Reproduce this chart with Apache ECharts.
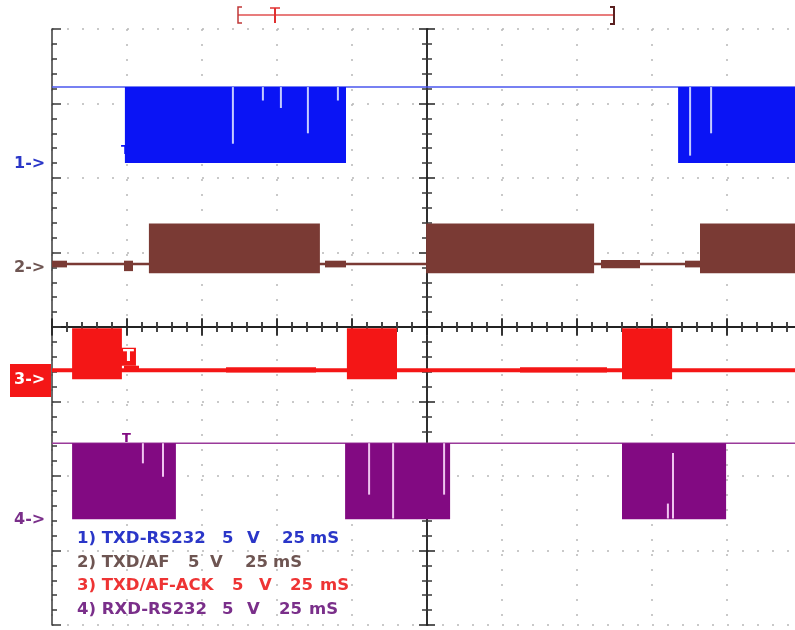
<!DOCTYPE html>
<html><head><meta charset="utf-8">
<script src="https://cdn.jsdelivr.net/npm/echarts@6/dist/echarts.min.js"></script>
<style>html,body{margin:0;padding:0;background:#fff}#c{width:795px;height:630px}</style>
</head><body><div id="c"></div><script>
// ---- data (time in ms, 25 ms/div; voltages in V, 5 V/div) ----
const timeRange = [0, 250];
const timePerDiv = 25;
const voltsPerDiv = 5;
// legend: each line split into its words
const legendWords = [
  ['1) TXD-RS232', '5', 'V', '25', 'mS'],
  ['2) TXD/AF', '5', 'V', '25', 'mS'],
  ['3) TXD/AF-ACK', '5', 'V', '25', 'mS'],
  ['4) RXD-RS232', '5', 'V', '25', 'mS']
];
const channelTags = ['1->', '2->', '3->', '4->'];
const channelColors = ['#0a14f5', '#7a3a34', '#f41616', '#820a82'];
const legendColors = ['#2a36c8', '#6e5552', '#ee3434', '#7a2f8a'];
const glitchColors = ['#c4ccff', '#e8d0cc', '#ffd0d0', '#f0c4f0'];
const channelGround = [2.2, 0.79, -0.70, -2.59]; // ground marker, divisions from centre

// idle levels (V)
const ch1Idle = 5.1, ch2Idle = 0.27, ch3Idle = 0.6, ch4Idle = 5.15;
// bursts: [start ms, end ms, low V, high V]
const ch1Bursts = [[24.3, 98.0, 0.0, 5.1], [208.7, 250, 0.0, 5.1]];
const ch2Bursts = [[32.3, 89.3, -0.34, 3.0], [124.7, 180.7, -0.34, 3.0], [216.0, 250, -0.34, 3.0]];
const ch3Bursts = [[6.7, 23.3, 0.0, 3.42], [98.3, 115.0, 0.0, 3.42], [190.0, 206.7, 0.0, 3.42]];
const ch4Bursts = [[6.7, 41.3, 0.05, 5.15], [97.7, 132.7, 0.05, 5.15], [190.0, 224.7, 0.05, 5.15]];
// noise blobs around the idle level: [start, end, low V, high V]
const ch2Noise = [[0, 5, 0.05, 0.5], [24, 27, -0.2, 0.5], [91, 98, 0.05, 0.5], [183, 196, 0.0, 0.55], [211, 216, 0.05, 0.5]];
const ch3Noise = [[24, 29, 0.5, 0.9], [58, 88, 0.45, 0.8], [156, 185, 0.45, 0.8]];
// dropouts inside bursts: [time ms, low V, high V]
const ch1Glitches = [[60.3, 1.3, 5.1], [70.3, 4.2, 5.1], [76.3, 3.7, 5.1], [85.3, 2.0, 5.1], [95.3, 4.2, 5.1], [212.7, 0.5, 5.1], [219.7, 2.0, 5.1]];
const ch4Glitches = [[30.3, 3.8, 5.15], [37.0, 2.9, 5.15], [105.7, 1.7, 5.15], [113.7, 0.1, 5.15], [130.7, 1.7, 5.15], [207.0, 0.1, 4.5], [205.3, 0.1, 1.1]];
// trigger markers: [time ms, level V, channel index]
const triggerMarks = [[24.5, 0.4, 0], [25.5, 0.9, 2], [24.8, 5.0, 3]];

// ---- helpers ----
const toDiv = (ch, v) => channelGround[ch] + v / voltsPerDiv;
const rectData = (ch, arr) => arr.map(d => [d[0], d[1], toDiv(ch, d[2]), toDiv(ch, d[3])]);
const glitchData = (ch, arr) => arr.map(d => [d[0], toDiv(ch, d[1]), toDiv(ch, d[2])]);

function clipToGrid(shape, params) {
  const cs = params.coordSys;
  return echarts.graphic.clipRectByRect(shape, {x: cs.x, y: cs.y, width: cs.width, height: cs.height});
}
function rectRender(params, api) {
  const a = api.coord([api.value(0), api.value(3)]);
  const b = api.coord([api.value(1), api.value(2)]);
  const shape = clipToGrid({x: a[0], y: a[1], width: b[0] - a[0], height: b[1] - a[1]}, params);
  return shape && {type: 'rect', shape, style: {fill: api.visual('color')}};
}
function glitchRender(params, api) {
  const a = api.coord([api.value(0), api.value(2)]);
  const b = api.coord([api.value(0), api.value(1)]);
  return {type: 'rect', shape: {x: a[0] - 1, y: a[1], width: 2, height: b[1] - a[1]}, style: {fill: api.visual('color')}};
}
function rectSeries(ch, arr, color, z) {
  return {type: 'custom', renderItem: rectRender, data: rectData(ch, arr), itemStyle: {color}, z, silent: true, animation: false};
}
function glitchSeries(ch, arr, color) {
  return {type: 'custom', renderItem: glitchRender, data: glitchData(ch, arr), itemStyle: {color}, z: 5, silent: true, animation: false};
}
function idleSeries(ch, level, width, color) {
  return {type: 'line', data: [[timeRange[0], toDiv(ch, level)], [timeRange[1], toDiv(ch, level)]], symbol: 'none',
    lineStyle: {color: color || channelColors[ch], width}, z: 2, silent: true, animation: false};
}

const tickColor = '#3a3a3a';
function xAx(extra) {
  return Object.assign({type: 'value', min: timeRange[0], max: timeRange[1], interval: timePerDiv,
    axisLabel: {show: false}, splitLine: {show: false},
    axisLine: {show: true, lineStyle: {color: tickColor, width: 1.5}},
    axisTick: {show: true, inside: true, length: 9, lineStyle: {color: tickColor, width: 1.5}},
    minorTick: {show: true, splitNumber: 5, length: 5, lineStyle: {color: tickColor, width: 1.5}}}, extra);
}
function yAx(extra) {
  return Object.assign({type: 'value', min: -4, max: 4, interval: 1,
    axisLabel: {show: false}, splitLine: {show: false},
    axisLine: {show: true, lineStyle: {color: tickColor, width: 1.5}},
    axisTick: {show: true, inside: true, length: 9, lineStyle: {color: tickColor, width: 1.5}},
    minorTick: {show: true, splitNumber: 5, length: 5, lineStyle: {color: tickColor, width: 1.5}}}, extra);
}

const chart = echarts.init(document.getElementById('c'), null, {renderer: 'canvas'});

const FONT = 'bold 16px "DejaVu Sans"';
const LFONT = 'bold 16.5px "DejaVu Sans"';
const graphics = [];
// top memory window bracket
graphics.push({type: 'line', shape: {x1: 238, y1: 15, x2: 615, y2: 15}, style: {stroke: '#e05050', lineWidth: 1.5}, z: 10});
graphics.push({type: 'polyline', shape: {points: [[242, 7], [238, 7], [238, 23], [242, 23]]}, style: {stroke: '#c03838', lineWidth: 1.5, fill: null}, z: 10});
graphics.push({type: 'line', shape: {x1: 275, y1: 8, x2: 275, y2: 23}, style: {stroke: '#e03030', lineWidth: 2}, z: 10});
graphics.push({type: 'line', shape: {x1: 270, y1: 8, x2: 280, y2: 8}, style: {stroke: '#e03030', lineWidth: 1.5}, z: 10});
graphics.push({type: 'polyline', shape: {points: [[610, 7], [614, 7], [614, 24], [610, 24]]}, style: {stroke: '#5a2020', lineWidth: 2, fill: null}, z: 10});
// channel tags
const tagY = [164, 268, 380, 520];
channelTags.forEach((t, i) => {
  if (i === 2) {
    graphics.push({type: 'rect', shape: {x: 10, y: 364, width: 41, height: 33}, style: {fill: channelColors[2]}, z: 10});
    graphics.push({type: 'text', x: 14, y: tagY[i], style: {text: t, fill: '#fff', font: FONT, verticalAlign: 'middle'}, z: 11});
  } else {
    graphics.push({type: 'text', x: 14, y: tagY[i], style: {text: t, fill: legendColors[i], font: FONT, verticalAlign: 'middle'}, z: 10});
  }
});
// legend texts (word positions)
const wordX = [
  [77, 222, 247, 282, 310],
  [77, 188, 210, 245, 273],
  [77, 232, 259, 290, 320],
  [77, 222, 247, 279, 309]
];
const lineY = [539, 562.5, 586, 609.5];
legendWords.forEach((words, i) => {
  words.forEach((w, j) => {
    graphics.push({type: 'text', x: wordX[i][j], y: lineY[i], style: {text: w, fill: legendColors[i], font: LFONT, verticalAlign: 'middle'}, z: 10});
  });
});

const series = [
  idleSeries(0, ch1Idle, 1.5, '#4a56ee'), idleSeries(1, ch2Idle, 2.5), idleSeries(2, ch3Idle, 4), idleSeries(3, ch4Idle, 1.5, '#9a3a9a'),
  rectSeries(1, ch2Noise, channelColors[1], 3), rectSeries(2, ch3Noise, channelColors[2], 3),
  rectSeries(0, ch1Bursts, channelColors[0], 4), rectSeries(1, ch2Bursts, channelColors[1], 4),
  rectSeries(2, ch3Bursts, channelColors[2], 4), rectSeries(3, ch4Bursts, channelColors[3], 4),
  glitchSeries(0, ch1Glitches, glitchColors[0]), glitchSeries(3, ch4Glitches, glitchColors[3]),
  {type: 'custom', silent: true, animation: false, z: 6,
    data: triggerMarks.map(d => [d[0], toDiv(d[2], d[1]), d[2]]),
    renderItem: function (params, api) {
      const p = api.coord([api.value(0), api.value(1)]);
      const ch = api.value(2);
      const red = ch === 2;
      return {type: 'text', x: p[0], y: p[1], style: {text: 'T', font: red ? 'bold 16px "DejaVu Sans"' : 'bold 13px "DejaVu Sans"',
        fill: red ? '#fff' : channelColors[ch], align: 'center', verticalAlign: 'bottom',
        backgroundColor: red ? channelColors[2] : null, padding: red ? [1, 2] : 0}};
    }}
];

chart.setOption({
  animation: false,
  backgroundColor: '#fff',
  grid: {left: 52, top: 29, width: 750, height: 596, containLabel: false, outerBoundsMode: 'none'},
  xAxis: [
    xAx({position: 'bottom', splitLine: {show: true, lineStyle: {color: '#b8b8b8', type: [2, 13], dashOffset: 0, width: 1.5}}}),
    xAx({position: 'top'}),
    xAx({position: 'bottom', offset: -298, axisTick: {show: true, inside: true, length: 8, lineStyle: {color: '#222', width: 1.5}}, axisLine: {show: true, lineStyle: {color: '#222', width: 1.5}}}),
    xAx({position: 'bottom', offset: -298, axisTick: {show: true, inside: false, length: 8, lineStyle: {color: '#222', width: 1.5}}, axisLine: {show: true, lineStyle: {color: '#222', width: 1.5}}})
  ],
  yAxis: [
    yAx({position: 'left', splitLine: {show: true, lineStyle: {color: '#b8b8b8', type: [2, 13], dashOffset: 0, width: 1.5}}}),
    yAx({position: 'left', offset: -375, axisTick: {show: true, inside: true, length: 8, lineStyle: {color: '#222', width: 1.5}}, axisLine: {show: true, lineStyle: {color: '#222', width: 1.5}}}),
    yAx({position: 'left', offset: -375, axisTick: {show: true, inside: false, length: 8, lineStyle: {color: '#222', width: 1.5}}, axisLine: {show: true, lineStyle: {color: '#222', width: 1.5}}})
  ],
  graphic: graphics,
  series: series
});
</script></body></html>
